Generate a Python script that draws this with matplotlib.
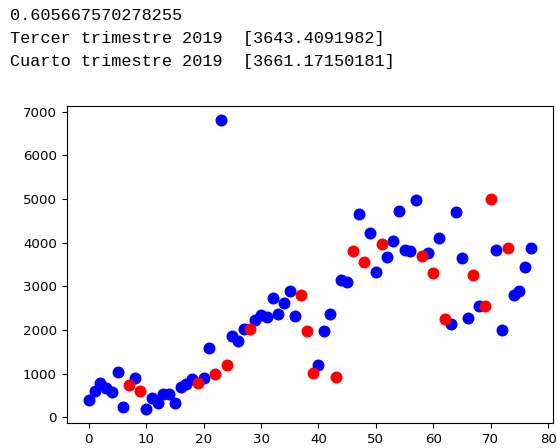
import matplotlib
matplotlib.use("Agg")
import matplotlib.pyplot as plt

# printed output above the chart
score_text = "0.605667570278255"
pred_labels = ["Tercer trimestre 2019", "Cuarto trimestre 2019"]
pred_values = ["[3643.4091982]", "[3661.17150181]"]

# sales per period (index 0..77)
values = [390, 590, 775, 670, 570, 1030, 230, 730, 900, 590,
          190, 430, 330, 525, 525, 330, 680, 770, 880, 790,
          905, 1580, 990, 6800, 1190, 1850, 1740, 2030, 2030, 2230,
          2350, 2300, 2740, 2370, 2610, 2900, 2310, 2800, 1970, 1010,
          1200, 1970, 2370, 930, 3150, 3100, 3800, 4660, 3550, 4230,
          3330, 3970, 3670, 4040, 4730, 3840, 3800, 4970, 3700, 3760,
          3300, 4100, 2240, 2140, 4700, 3640, 2270, 3260, 2540, 2540,
          5000, 3820, 2000, 3880, 2800, 2900, 3440, 3870]
test_idx = [7, 9, 19, 22, 24, 28, 37, 38, 39, 43,
            46, 48, 51, 58, 60, 62, 67, 69, 70, 73]

x_train = [i for i in range(len(values)) if i not in test_idx]
y_train = [values[i] for i in x_train]
x_test = test_idx
y_test = [values[i] for i in test_idx]

fig = plt.figure(figsize=(5.57, 4.48), dpi=100)

# text output like a notebook cell
mono = dict(family="Liberation Mono", fontsize=12.2, color="black", va="baseline")
fig.text(10 / 557, 1 - 20.5 / 448, score_text, **mono)
for k, (lab, val) in enumerate(zip(pred_labels, pred_values)):
    fig.text(10 / 557, 1 - (43 + 22.5 * k) / 448, f"{lab}  {val}", **mono)

ax = fig.add_axes([66.7 / 557, 1 - 423.3 / 448, (553 - 66.7) / 557, (423.3 - 106) / 448])
ax.scatter(x_train, y_train, color="blue", s=58)
ax.scatter(x_test, y_test, color="red", s=58)
ax.set_xticks(range(0, 81, 10))
ax.set_yticks(range(0, 7001, 1000))
ax.tick_params(labelsize=9.6)

fig.savefig("out.png", dpi=100)
